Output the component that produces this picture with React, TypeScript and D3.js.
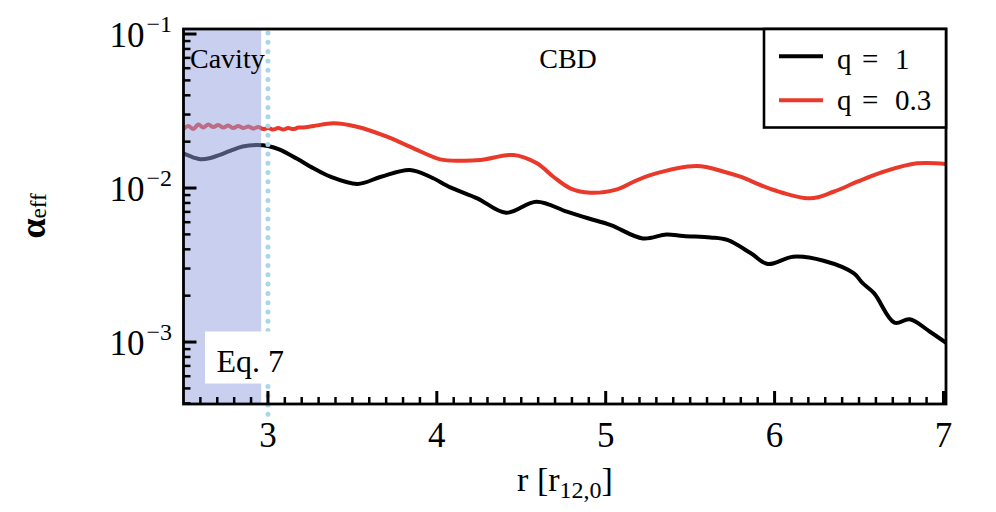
import React from 'react';
import * as d3 from 'd3';

// ---- data ----
const rQ1 = [2.50, 2.56, 2.60, 2.66, 2.72, 2.78, 2.85, 2.93, 3.00, 3.07, 3.17, 3.27, 3.37, 3.53, 3.67, 3.84, 3.96, 4.08, 4.24, 4.41, 4.59, 4.77, 4.90, 5.03, 5.22, 5.36, 5.46, 5.62, 5.72, 5.86, 5.96, 6.11, 6.29, 6.47, 6.52, 6.59, 6.71, 6.80, 6.92, 7.02];
const alphaQ1 = [0.01680, 0.01578, 0.01536, 0.01566, 0.01650, 0.01752, 0.01860, 0.01901, 0.01875, 0.01778, 0.01554, 0.01342, 0.01184, 0.01062, 0.01184, 0.01309, 0.01184, 0.01010, 0.00857, 0.00691, 0.00815, 0.00702, 0.00634, 0.00575, 0.00471, 0.00500, 0.00488, 0.00478, 0.00460, 0.00377, 0.00321, 0.00358, 0.00337, 0.00279, 0.00242, 0.00207, 0.001335, 0.001404, 0.001167, 0.00098];

const rQ03 = [2.500, 2.528, 2.558, 2.588, 2.617, 2.647, 2.677, 2.706, 2.736, 2.765, 2.795, 2.824, 2.854, 2.884, 2.913, 2.943, 2.972, 3.002, 3.032, 3.061, 3.091, 3.120, 3.150, 3.180, 3.209, 3.270, 3.389, 3.527, 3.705, 3.862, 4.020, 4.139, 4.258, 4.454, 4.593, 4.690, 4.790, 4.908, 5.067, 5.165, 5.264, 5.540, 5.700, 5.797, 5.994, 6.211, 6.349, 6.490, 6.645, 6.843, 7.020];
const alphaQ03 = [0.02415, 0.02527, 0.02415, 0.02584, 0.02470, 0.02584, 0.02489, 0.02565, 0.02470, 0.02546, 0.02452, 0.02527, 0.02452, 0.02508, 0.02434, 0.02489, 0.02415, 0.02452, 0.02398, 0.02452, 0.02398, 0.02452, 0.02415, 0.02470, 0.02470, 0.02527, 0.02631, 0.02500, 0.02154, 0.01810, 0.01536, 0.01504, 0.01520, 0.01638, 0.01447, 0.01184, 0.00996, 0.00932, 0.00981, 0.01099, 0.01214, 0.01390, 0.01276, 0.01184, 0.00971, 0.00857, 0.00946, 0.01099, 0.01276, 0.01447, 0.01432];

const seriesLabels = ['q = 1', 'q = 0.3'];
const seriesValues = ['1', '0.3'];
const seriesColors = ['#000000', '#e8392b'];
const xTickValues = [3, 4, 5, 6, 7];
const yMajorTicks = [1e-3, 1e-2, 1e-1];
const yMajorExp = ['−3', '−2', '−1'];
const cavityEdge = 2.96;
const binaryRadius = 3.0;
const xDomain = [2.5, 7.015];
const yDomain = [3.96e-4, 0.1078];

const W = 996;
const H = 512;
const PL = 183.5, PR = 946, PT = 29, PB = 404;
const FONT = '"Liberation Serif", "Times New Roman", serif';

export default function App() {
  const x = d3.scaleLinear().domain(xDomain).range([PL, PR]);
  const y = d3.scaleLog().domain(yDomain).range([PB, PT]);

  const line = d3.line<[number, number]>()
    .x(d => x(d[0]))
    .y(d => y(d[1]))
    .curve(d3.curveCatmullRom.alpha(0.5));

  const q1 = rQ1.map((r, i) => [r, alphaQ1[i]] as [number, number]);
  const q03 = rQ03.map((r, i) => [r, alphaQ03[i]] as [number, number]);

  const xMinor = d3.range(26, 71).map(i => i / 10).filter(v => Math.abs(v - Math.round(v)) > 1e-6);
  const yMinor: number[] = [];
  for (let k = -4; k <= -2; k++) {
    for (let m = 2; m <= 9; m++) {
      const v = m * Math.pow(10, k);
      if (v > yDomain[0] && v < yDomain[1]) yMinor.push(v);
    }
  }

  return (
    <svg width={W} height={H} style={{ position: 'absolute', left: 0, top: 0, background: '#fff' }} fontFamily={FONT}>
      <defs>
        <clipPath id="plotclip">
          <rect x={PL} y={PT} width={PR - PL} height={PB - PT} />
        </clipPath>
      </defs>
      <rect x={0} y={0} width={W} height={H} fill="#fff" />

      {/* curves */}
      <g clipPath="url(#plotclip)">
        <path d={line(q03) || ''} fill="none" stroke={seriesColors[1]} strokeWidth={4} strokeLinejoin="round" />
        <path d={line(q1) || ''} fill="none" stroke={seriesColors[0]} strokeWidth={4} strokeLinejoin="round" />
      </g>

      {/* cavity shading */}
      <rect x={x(xDomain[0])} y={PT} width={x(cavityEdge) - x(xDomain[0])} height={PB - PT} fill="rgb(148,160,224)" fillOpacity={0.5} />

      {/* binary separation dotted line */}
      <line x1={x(binaryRadius)} x2={x(binaryRadius)} y1={PT + 4} y2={PB + 12} stroke="#a9d6e8" strokeWidth={5} strokeLinecap="round" strokeDasharray="0 9.3" />

      {/* Eq. 7 box */}
      <rect x={205} y={331.5} width={89} height={52} fill="#fff" />
      <text x={216.5} y={371.5} fontSize={32} fill="#000">Eq. 7</text>

      {/* region labels */}
      <text x={190} y={68} fontSize={28} fill="#000">Cavity</text>
      <text x={568} y={68} fontSize={28} fill="#000" textAnchor="middle">CBD</text>

      {/* ticks */}
      <g stroke="#000">
        {xTickValues.map(v => (
          <line key={'xM' + v} x1={x(v)} x2={x(v)} y1={PB} y2={PB - 13} strokeWidth={3} />
        ))}
        {xMinor.map(v => (
          <line key={'xm' + v} x1={x(v)} x2={x(v)} y1={PB} y2={PB - 7} strokeWidth={2.5} />
        ))}
        {yMajorTicks.map(v => (
          <line key={'yM' + v} x1={PL} x2={PL + 13} y1={y(v)} y2={y(v)} strokeWidth={3} />
        ))}
        {yMinor.map(v => (
          <line key={'ym' + v} x1={PL} x2={PL + 7} y1={y(v)} y2={y(v)} strokeWidth={2.5} />
        ))}
      </g>

      {/* frame */}
      <rect x={PL} y={PT} width={PR - PL} height={PB - PT} fill="none" stroke="#000" strokeWidth={2.8} />

      {/* tick labels */}
      {xTickValues.map(v => (
        <text key={'xl' + v} x={x(v)} y={447} fontSize={35} textAnchor="middle" fill="#000">{v}</text>
      ))}
      {yMajorTicks.map((v, i) => (
        <text key={'yl' + v} x={172} y={y(v) + 13} fontSize={35} textAnchor="end" fill="#000">
          10<tspan dy={-15} dx={2} fontSize={24}>{yMajorExp[i]}</tspan>
        </text>
      ))}

      {/* axis labels */}
      <text x={565} y={491} fontSize={34} textAnchor="middle" fill="#000">
        r [r<tspan dy={7} fontSize={24}>12,0</tspan><tspan dy={-7}>]</tspan>
      </text>
      <text transform="translate(45,216) rotate(-90)" textAnchor="middle" fill="#000">
        <tspan fontSize={36} fontWeight="bold">α</tspan>
        <tspan fontSize={23} dy={1}>eff</tspan>
      </text>

      {/* legend */}
      <rect x={764} y={PT} width={PR - 764} height={127.5 - PT} fill="#fff" stroke="#000" strokeWidth={2.6} />
      {seriesLabels.map((lab, i) => {
        const ly = i === 0 ? 56.3 : 100.3;
        const by = i === 0 ? 69 : 110;
        return (
          <g key={lab}>
            <line x1={779} x2={823} y1={ly} y2={ly} stroke={seriesColors[i]} strokeWidth={4} />
            <text y={by} fontSize={29} fill="#000">
              <tspan x={837}>q</tspan>
              <tspan x={862}>=</tspan>
              <tspan x={895}>{seriesValues[i]}</tspan>
            </text>
          </g>
        );
      })}
    </svg>
  );
}
